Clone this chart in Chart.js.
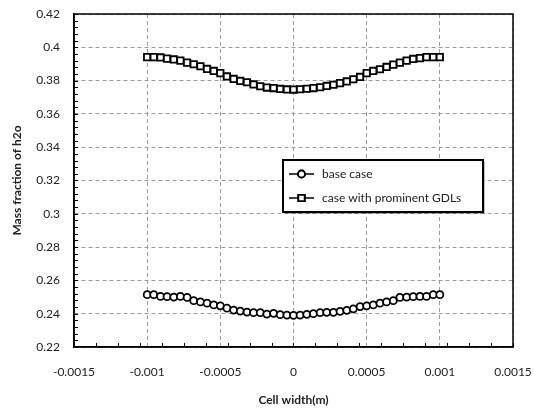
<!DOCTYPE html>
<html>
<head>
<meta charset="utf-8">
<script src="https://cdn.jsdelivr.net/npm/chart.js@4/dist/chart.umd.min.js"></script>
<style>
  html, body { margin: 0; padding: 0; background: #fff; }
  #box { width: 534px; height: 411px; }
</style>
</head>
<body>
<div id="box"><canvas id="chart" width="534" height="411"></canvas></div>
<script>
// Данные
let xTicks = [-0.0015, -0.001, -0.0005, 0, 0.0005, 0.001, 0.0015];
let yTicks = [0.22, 0.24, 0.26, 0.28, 0.3, 0.32, 0.34, 0.36, 0.38, 0.4, 0.42];

let cellWidth = [
    -0.001, -0.000955, -0.000909, -0.000864, -0.000818, -0.000773, -0.000727, -0.000682,
    -0.000636, -0.000591, -0.000545, -0.0005, -0.000455, -0.000409, -0.000364, -0.000318,
    -0.000273, -0.000227, -0.000182, -0.000136, -0.000091, -0.000045, 0,
    0.000045, 0.000091, 0.000136, 0.000182, 0.000227, 0.000273, 0.000318, 0.000364,
    0.000409, 0.000455, 0.0005, 0.000545, 0.000591, 0.000636, 0.000682, 0.000727,
    0.000773, 0.000818, 0.000864, 0.000909, 0.000955, 0.001
];

let baseCase = [
    0.2514, 0.2514, 0.2504, 0.2502, 0.2500, 0.2504, 0.2498, 0.2478, 0.2471, 0.2463,
    0.2453, 0.2447, 0.2433, 0.2422, 0.2416, 0.2410, 0.2406, 0.2406, 0.2398, 0.2402,
    0.2394, 0.2392, 0.2390, 0.2392, 0.2396, 0.2400, 0.2406, 0.2408, 0.2408, 0.2414,
    0.2420, 0.2429, 0.2443, 0.2447, 0.2453, 0.2463, 0.2471, 0.2478, 0.2498, 0.2500,
    0.2502, 0.2504, 0.2504, 0.2514, 0.2514
];

let prominentGdl = [
    0.3941, 0.3941, 0.3939, 0.3932, 0.3927, 0.3920, 0.3908, 0.3898, 0.3886, 0.3870,
    0.3858, 0.3845, 0.3825, 0.3810, 0.3798, 0.3790, 0.3777, 0.3766, 0.3758, 0.3755,
    0.3750, 0.3747, 0.3746, 0.3748, 0.3751, 0.3755, 0.3760, 0.3768, 0.3775, 0.3785,
    0.3795, 0.3808, 0.3822, 0.3845, 0.3858, 0.3868, 0.3882, 0.3896, 0.3908, 0.3920,
    0.3930, 0.3935, 0.3941, 0.3941, 0.3941
];

let seriesNames = ['base case', 'case with prominent GDLs'];

// Контекст
let canvas = document.getElementById('chart');
let context = canvas.getContext('2d');

Chart.defaults.font.family = 'Lato, "Open Sans", sans-serif';
Chart.defaults.font.size = 12;
Chart.defaults.color = '#222';

const toPoints = (xs, ys) => xs.map((x, i) => ({ x: x, y: ys[i] }));

// Рамка, мелкие риски и легенда
const frameAndLegend = {
    id: 'frameAndLegend',
    afterDatasetsDraw(chart) {
        let ctx = chart.ctx;
        let area = chart.chartArea;
        let xs = chart.scales.x;
        let ys = chart.scales.y;
        ctx.save();
        ctx.strokeStyle = '#000';
        ctx.lineWidth = 1;
        // мелкие риски по y
        for (let v = 0.22; v <= 0.4201; v += 0.004) {
            let py = Math.round(ys.getPixelForValue(v)) + 0.5;
            ctx.beginPath();
            ctx.moveTo(area.left, py);
            ctx.lineTo(area.left + 4, py);
            ctx.stroke();
        }
        // мелкие риски по x
        for (let v = -0.0015; v <= 0.00151; v += 0.00015) {
            let px = Math.round(xs.getPixelForValue(v)) + 0.5;
            ctx.beginPath();
            ctx.moveTo(px, area.bottom);
            ctx.lineTo(px, area.bottom - 4);
            ctx.stroke();
        }
        ctx.lineWidth = 1.5;
        ctx.strokeRect(area.left, area.top, area.right - area.left, area.bottom - area.top);

        // легенда
        let lx = 283, ly = 160, lw = 200, lh = 52;
        ctx.fillStyle = 'rgba(0,0,0,0.25)';
        ctx.fillRect(lx + 2, ly + 2, lw, lh);
        ctx.fillStyle = '#fff';
        ctx.fillRect(lx, ly, lw, lh);
        ctx.lineWidth = 2;
        ctx.strokeStyle = '#000';
        ctx.strokeRect(lx, ly, lw, lh);

        let styles = ['circle', 'rect'];
        let radii = [3.5, 4.5];
        for (let i = 0; i < seriesNames.length; i++) {
            let yy = ly + 14 + i * 24;
            ctx.lineWidth = 1.5;
            ctx.beginPath();
            ctx.moveTo(lx + 6, yy);
            ctx.lineTo(lx + 31, yy);
            ctx.stroke();
            ctx.fillStyle = '#fff';
            ctx.lineWidth = 1.8;
            Chart.helpers.drawPoint(ctx, { pointStyle: styles[i], radius: radii[i], rotation: 0, borderWidth: 1.8 }, lx + 18.5, yy);
            ctx.fill();
            ctx.stroke();
            ctx.fillStyle = '#222';
            ctx.font = '12px Lato, "Open Sans", sans-serif';
            ctx.textBaseline = 'middle';
            ctx.fillText(seriesNames[i], lx + 39, yy);
        }
        ctx.restore();
    }
};

let config = {
    type: 'scatter',
    data: {
        datasets: [
            {
                label: seriesNames[0],
                data: toPoints(cellWidth, baseCase),
                showLine: true,
                borderColor: '#000',
                borderWidth: 1.5,
                pointStyle: 'circle',
                pointRadius: 3.5,
                pointBorderWidth: 1.8,
                pointBackgroundColor: '#fff',
                pointBorderColor: '#000'
            }, {
                label: seriesNames[1],
                data: toPoints(cellWidth, prominentGdl),
                showLine: true,
                borderColor: '#000',
                borderWidth: 1.5,
                pointStyle: 'rect',
                pointRadius: 4.5,
                pointBorderWidth: 1.8,
                pointBackgroundColor: '#fff',
                pointBorderColor: '#000'
            }
        ]
    },
    options: {
        responsive: false,
        animation: false,
        layout: {
            padding: { top: 14, right: 21, left: 0, bottom: 0 }
        },
        scales: {
            x: {
                type: 'linear',
                min: xTicks[0],
                max: xTicks[xTicks.length - 1],
                afterBuildTicks: (scale) => { scale.ticks = xTicks.map(v => ({ value: v })); },
                afterFit: (scale) => {
                    scale.height = 64;
                    scale.paddingLeft = 0;
                    scale.paddingRight = 0;
                },
                ticks: {
                    padding: 18,
                    callback: (v) => Number(v.toFixed(4)).toString()
                },
                grid: {
                    color: '#9a9a9a',
                    drawTicks: false
                },
                border: {
                    color: '#000',
                    width: 1.5,
                    dash: [4, 3]
                },
                title: {
                    display: true,
                    text: 'Cell width(m)',
                    font: { weight: 'bold', size: 12 },
                    padding: { top: 0, bottom: 4 }
                }
            },
            y: {
                type: 'linear',
                min: yTicks[0],
                max: yTicks[yTicks.length - 1],
                afterBuildTicks: (scale) => { scale.ticks = yTicks.map(v => ({ value: v })); },
                afterFit: (scale) => {
                    scale.width = 74;
                    scale.paddingTop = 0;
                    scale.paddingBottom = 0;
                },
                ticks: {
                    padding: 14,
                    callback: (v) => Number(v.toFixed(2)).toString()
                },
                grid: {
                    color: '#9a9a9a',
                    drawTicks: false
                },
                border: {
                    color: '#000',
                    width: 1.5,
                    dash: [4, 3]
                },
                title: {
                    display: true,
                    text: 'Mass fraction of h2o',
                    font: { weight: 'bold', size: 12 },
                    padding: { top: 10, bottom: 0 }
                }
            }
        },
        plugins: {
            legend: { display: false },
            tooltip: { enabled: false }
        }
    },
    plugins: [frameAndLegend]
};

let chart = new Chart(context, config);
</script>
</body>
</html>
